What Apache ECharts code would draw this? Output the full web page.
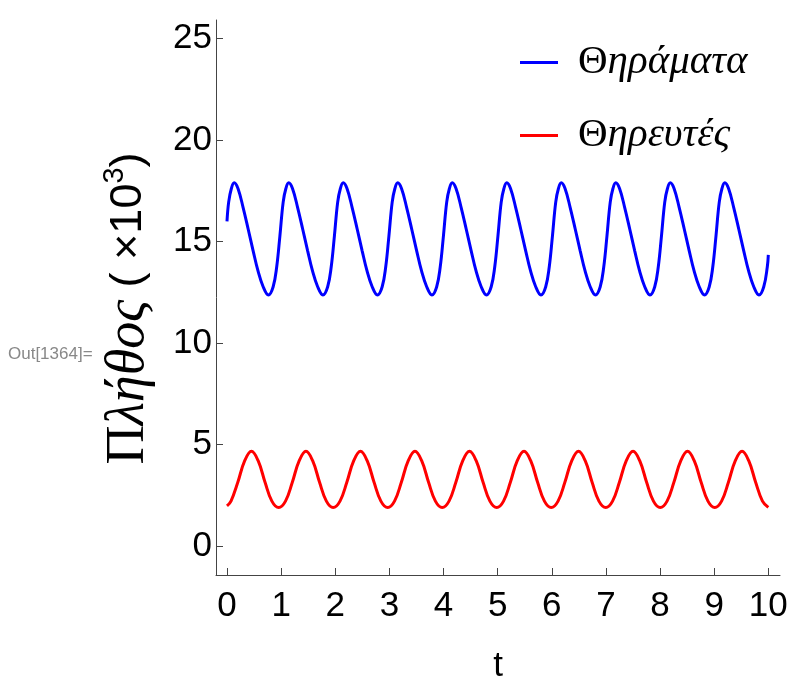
<!DOCTYPE html>
<html>
<head>
<meta charset="utf-8">
<script src="https://cdn.jsdelivr.net/npm/echarts@6/dist/echarts.min.js"></script>
<style>
html,body{margin:0;padding:0;background:#fff;}
#chart{width:792px;height:679px;}
</style>
</head>
<body>
<div id="chart"></div>
<script>
// ---- data ----
const xTicks = [0,1,2,3,4,5,6,7,8,9,10];
const yTicks = [0,5,10,15,20,25];
const seriesNames = ['Θηράματα', 'Θηρευτές'];

// prey (Θηράματα), values in thousands
const preyT = [
  0, 0.031, 0.081,
  0.133, 0.203, 0.298, 0.393, 0.483, 0.573, 0.668, 0.765, 0.853, 0.918, 0.978, 1.038, 1.088,
  1.140, 1.210, 1.305, 1.400, 1.490, 1.580, 1.675, 1.772, 1.860, 1.925, 1.985, 2.045, 2.095,
  2.147, 2.217, 2.312, 2.407, 2.497, 2.587, 2.682, 2.779, 2.867, 2.932, 2.992, 3.052, 3.102,
  3.154, 3.224, 3.319, 3.414, 3.504, 3.594, 3.689, 3.786, 3.874, 3.939, 3.999, 4.059, 4.109,
  4.161, 4.231, 4.326, 4.421, 4.511, 4.601, 4.696, 4.793, 4.881, 4.946, 5.006, 5.066, 5.116,
  5.168, 5.238, 5.333, 5.428, 5.518, 5.608, 5.703, 5.800, 5.888, 5.953, 6.013, 6.073, 6.123,
  6.175, 6.245, 6.340, 6.435, 6.525, 6.615, 6.710, 6.807, 6.895, 6.960, 7.020, 7.080, 7.130,
  7.182, 7.252, 7.347, 7.442, 7.532, 7.622, 7.717, 7.814, 7.902, 7.967, 8.027, 8.087, 8.137,
  8.189, 8.259, 8.354, 8.449, 8.539, 8.629, 8.724, 8.821, 8.909, 8.974, 9.034, 9.094, 9.144,
  9.196, 9.266, 9.361, 9.456, 9.546, 9.636, 9.731, 9.828, 9.916, 9.981, 10.0
];
const preyV = [
  16.0, 16.95, 17.62,
  17.90, 17.62, 16.68, 15.60, 14.55, 13.56, 12.78, 12.37, 12.78, 13.75, 15.30, 16.95, 17.62,
  17.90, 17.62, 16.68, 15.60, 14.55, 13.56, 12.78, 12.37, 12.78, 13.75, 15.30, 16.95, 17.62,
  17.90, 17.62, 16.68, 15.60, 14.55, 13.56, 12.78, 12.37, 12.78, 13.75, 15.30, 16.95, 17.62,
  17.90, 17.62, 16.68, 15.60, 14.55, 13.56, 12.78, 12.37, 12.78, 13.75, 15.30, 16.95, 17.62,
  17.90, 17.62, 16.68, 15.60, 14.55, 13.56, 12.78, 12.37, 12.78, 13.75, 15.30, 16.95, 17.62,
  17.90, 17.62, 16.68, 15.60, 14.55, 13.56, 12.78, 12.37, 12.78, 13.75, 15.30, 16.95, 17.62,
  17.90, 17.62, 16.68, 15.60, 14.55, 13.56, 12.78, 12.37, 12.78, 13.75, 15.30, 16.95, 17.62,
  17.90, 17.62, 16.68, 15.60, 14.55, 13.56, 12.78, 12.37, 12.78, 13.75, 15.30, 16.95, 17.62,
  17.90, 17.62, 16.68, 15.60, 14.55, 13.56, 12.78, 12.37, 12.78, 13.75, 15.30, 16.95, 17.62,
  17.90, 17.62, 16.68, 15.60, 14.55, 13.56, 12.78, 12.37, 12.78, 13.75, 14.35
];

// predators (Θηρευτές), values in thousands
const predT = [
  0, 0.074, 0.200, 0.326, 0.452, 0.577, 0.703, 0.829,
  0.955, 1.081, 1.207, 1.333, 1.459, 1.584, 1.710, 1.836,
  1.962, 2.088, 2.214, 2.340, 2.466, 2.591, 2.717, 2.843,
  2.969, 3.095, 3.221, 3.347, 3.473, 3.598, 3.724, 3.850,
  3.976, 4.102, 4.228, 4.354, 4.480, 4.605, 4.731, 4.857,
  4.983, 5.109, 5.235, 5.361, 5.487, 5.612, 5.738, 5.864,
  5.990, 6.116, 6.242, 6.368, 6.494, 6.619, 6.745, 6.871,
  6.997, 7.123, 7.249, 7.375, 7.501, 7.626, 7.752, 7.878,
  8.004, 8.130, 8.256, 8.382, 8.508, 8.633, 8.759, 8.885,
  9.011, 9.137, 9.263, 9.389, 9.515, 9.640, 9.766, 9.892,
  10.0
];
const predV = [
  1.98, 2.22, 3.15, 4.20, 4.67, 4.20, 3.15, 2.22,
  1.90, 2.22, 3.15, 4.20, 4.67, 4.20, 3.15, 2.22,
  1.90, 2.22, 3.15, 4.20, 4.67, 4.20, 3.15, 2.22,
  1.90, 2.22, 3.15, 4.20, 4.67, 4.20, 3.15, 2.22,
  1.90, 2.22, 3.15, 4.20, 4.67, 4.20, 3.15, 2.22,
  1.90, 2.22, 3.15, 4.20, 4.67, 4.20, 3.15, 2.22,
  1.90, 2.22, 3.15, 4.20, 4.67, 4.20, 3.15, 2.22,
  1.90, 2.22, 3.15, 4.20, 4.67, 4.20, 3.15, 2.22,
  1.90, 2.22, 3.15, 4.20, 4.67, 4.20, 3.15, 2.22,
  1.90, 2.22, 3.15, 4.20, 4.67, 4.20, 3.15, 2.22,
  1.91
];

const zip = (t, v) => t.map((x, i) => [x, v[i]]);

const chart = echarts.init(document.getElementById('chart'), null, {renderer: 'canvas'});
const axisColor = '#444';
const sans = 'Liberation Sans, Arial, sans-serif';
const serif = 'Liberation Serif, Times New Roman, serif';

chart.setOption({
  animation: false,
  backgroundColor: '#fff',
  grid: {left: 216, right: 12, top: 20, bottom: 104, containLabel: false, outerBoundsMode: 'none'},
  graphic: [{
    type: 'text', left: 8, top: 346,
    style: {text: 'Out[1364]=', fontFamily: sans, fontSize: 17, fill: '#888'}
  }],
  legend: {
    orient: 'vertical', left: 515, top: 37,
    icon: 'rect', itemWidth: 38, itemHeight: 3, itemGap: 32,
    data: seriesNames,
    formatter: n => '{u|' + n.charAt(0) + '}{i|' + n.slice(1) + '}',
    textStyle: {
      padding: [0, 0, 0, 15],
      rich: {
        u: {fontFamily: serif, fontSize: 41, fontStyle: 'normal', color: '#000', lineHeight: 50},
        i: {fontFamily: serif, fontSize: 41, fontStyle: 'italic', color: '#000', lineHeight: 50}
      }
    }
  },
  xAxis: {
    type: 'value', min: -0.203, max: 10.216,
    axisLine: {show: true, onZero: false, lineStyle: {color: axisColor, width: 1}},
    axisTick: {show: true, inside: true, length: 7, customValues: xTicks, lineStyle: {color: axisColor}},
    axisLabel: {customValues: xTicks, fontFamily: sans, fontSize: 35, color: '#000', margin: 14},
    splitLine: {show: false},
    name: 't', nameLocation: 'middle', nameGap: 74,
    nameTextStyle: {fontFamily: sans, fontSize: 35, color: '#000'}
  },
  yAxis: {
    type: 'value', min: -1.42, max: 25.92,
    axisLine: {show: true, onZero: false, lineStyle: {color: axisColor, width: 1}},
    axisTick: {show: true, inside: true, length: 7, customValues: yTicks, lineStyle: {color: axisColor}},
    axisLabel: {customValues: yTicks, fontFamily: sans, fontSize: 35, color: '#000', margin: 4},
    splitLine: {show: false},
    name: '{g|Π}{gi|λήθος}{s| ( ×10}{sup|3}{s|)}',
    nameLocation: 'middle', nameGap: 58,
    nameTextStyle: {
      color: '#000',
      padding: [0, 22, 0, 0],
      rich: {
        g: {fontFamily: serif, fontSize: 54, fontStyle: 'normal', color: '#000', lineHeight: 58},
        gi: {fontFamily: serif, fontSize: 54, fontStyle: 'italic', color: '#000', lineHeight: 58},
        s: {fontFamily: sans, fontSize: 45, color: '#000', lineHeight: 58},
        sup: {fontFamily: sans, fontSize: 29, color: '#000', verticalAlign: 'top', lineHeight: 36}
      }
    }
  },
  series: [
    {
      name: seriesNames[0], type: 'line', data: zip(preyT, preyV),
      showSymbol: false, smooth: 0.4, color: '#0000ff',
      lineStyle: {width: 3, color: '#0000ff'}
    },
    {
      name: seriesNames[1], type: 'line', data: zip(predT, predV),
      showSymbol: false, smooth: 0.4, color: '#ff0000',
      lineStyle: {width: 3, color: '#ff0000'}
    }
  ]
});
</script>
</body>
</html>
